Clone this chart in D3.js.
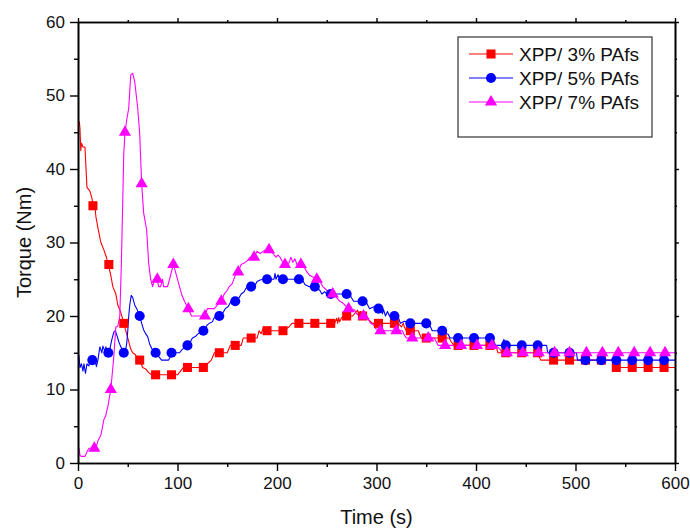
<!DOCTYPE html>
<html>
<head>
<meta charset="utf-8">
<script src="https://cdn.jsdelivr.net/npm/d3@7/dist/d3.min.js"></script>
<style>
  html, body { margin: 0; padding: 0; background: #fff; }
  svg { display: block; font-family: Arial, "Liberation Sans", sans-serif; }
</style>
</head>
<body>
<svg id="chart" width="690" height="529"></svg>
<script>
// Torque curves, [time (s), torque (Nm)]
const seriesNames = ["XPP/ 3% PAfs", "XPP/ 5% PAfs", "XPP/ 7% PAfs"];

const line3 = [[1.3,46.5],[2,45.5],[2.8,42.5],[3.5,43.5],[5,43],[7,43],[9,37.5],[12,37],[14,36],[15.4,35],[17,35],[18,33.5],[20,32],[23,30],[26,29],[28.5,28],[30.5,27],[33,25.5],[35,24],[38,23],[40,21.5],[43,20.5],[46,19],[49,17.5],[51,16.5],[53,15.5],[55,15],[58,14.7],[60,14],[62,14],[65,13],[68,12.8],[71,12.3],[74,12],[78,12],[86,12],[94,12],[100,12],[103,12.5],[106,13],[110,13],[118,13],[126,13],[130,13.5],[134,14],[137,15],[142,15],[150,15],[153,16],[158,16],[164,16],[166,17],[174,17],[180,17],[182,18],[184,17.6],[186,18.3],[190,18],[198,18],[206,18],[212,18.5],[215,19],[222,19],[230,19],[238,19],[254,19],[258,19],[260,19.7],[261,19],[262,19.8],[263,19.2],[265,19.8],[270,20],[276,20],[281,20.8],[282,20],[284,20.6],[286,20],[290,19.8],[292,19.5],[296,19],[302,19],[310,19],[318,19],[322,19],[325,18.5],[327,19],[328,18.5],[330,18],[334,18],[342,18],[345,17],[350,17],[358,17],[366,17],[373,17],[375,16.5],[378,16],[382,16],[398,16],[414,16],[420,16],[422,15],[430,15],[446,15],[462,15],[465,14],[478,14],[494,14],[510,14],[526,14],[537,14],[538,13],[541,13],[557,13],[573,13],[589,13],[600,13]];

const line5 = [[0,15],[1,14.5],[2,13],[3.5,13.5],[5,12.5],[6,13.5],[7.5,12.2],[9,13.5],[11,13.2],[12,14],[14.4,14],[17,14.2],[18.5,13.1],[20,14],[22,15.8],[24,15],[25,15.9],[27,15.2],[28,15.8],[30.5,15],[32,15.5],[34,16.8],[36,17.8],[37.5,18],[39.5,17.2],[41,16.5],[43,15.8],[46,15],[48,15.5],[49,16.3],[50,18],[51,20],[52,21.5],[53.5,22.8],[55,22.5],[57,21.5],[59,21],[62,20],[64,19],[66,18.1],[68,17.6],[70,17.2],[72,16.2],[74,15.6],[78,15],[81,14.5],[84,14],[88,14],[91,14],[93,14.5],[94,15],[98,15],[102,15],[105,15.5],[110,16],[113,16.5],[115,17],[118,17.2],[120,17.5],[123,17.8],[126,18],[130,18.8],[132,19],[135,19.2],[137,19.8],[142,20],[146,20.5],[148,21],[151,21.3],[153,21.8],[158,22],[162,22.5],[164,23],[167,23.3],[169,23.8],[174,24],[178,24.2],[180,24.7],[183,24.9],[186,25],[190,25],[197,25],[198,25.8],[199,25],[201,25.6],[203,25],[206,25],[214,25],[222,25],[226,24.8],[228,24.3],[232,24],[238,24],[243,23.5],[245,23],[248,23.3],[250,23],[254,23],[262,23],[270,23],[274,22.7],[277,22],[282,22],[286,22],[290,21.8],[293,21],[298,21.3],[302,21],[305,20.7],[306,20.3],[307,20.9],[309,20],[311,20.6],[313,20],[318,20],[322,19.8],[324,19],[328,19.3],[334,19],[342,19],[350,19],[354,18.6],[356,18],[366,18],[372,17.5],[374,17],[382,17],[398,17],[414,17],[418,16.5],[420,16],[426,16],[428,16.8],[430,16],[446,16],[462,16],[471,16],[472,15],[478,15],[494,15],[501,15],[502,14],[510,14],[526,14],[541,14],[557,14],[573,14],[589,14],[600,14]];

const line7 = [[0,0],[0.5,1.8],[1,2],[2,1],[4,0.9],[7,0.9],[9,1.5],[11,2],[16.4,2],[19,2.5],[20,3],[23,3.8],[26,5.9],[28,6.5],[30,7.7],[33,10],[36,14.5],[38,18.5],[40,18.6],[42,20],[43.5,26.7],[45,35.8],[46,42],[47.2,45],[49,46.7],[51,48.3],[53,52.8],[55,53],[57,51.9],[60,48.3],[62,44.8],[64,38],[66,34],[69,31.7],[71,27.2],[73,25],[75,24],[77,25],[79.7,25],[81,24],[83,24],[85,25],[86,24],[88,24],[90,24],[92,25],[95.8,27],[98,26],[101,24.5],[104,23],[107,22],[110.9,21],[114,20],[120,20],[127.6,20],[130,21],[137,21],[140,21.5],[144,22],[147,23],[150,23.5],[152,24],[155,24.4],[158,25.5],[161,26],[164,27],[167,27.2],[170,27.5],[173,28],[177,28],[180,28.8],[183,28.5],[186,28.8],[189,29],[192,29],[196,28.5],[199,28],[201,28.3],[203,28],[205,27.5],[208,27.2],[212,27.2],[214,28],[216,27.3],[218,27.8],[220,27],[224,27],[228,26.5],[230,26],[233,25.5],[236,25.3],[240,25],[244,24.5],[246,24],[250,23.5],[252,23.2],[256,23],[260,22.5],[263,22],[266,21.8],[268,21.5],[272,21],[278,20.8],[280,20.3],[283,20],[287,20],[292,19.5],[294,19],[297,18.8],[299,18.3],[304,18],[312,18],[320,18],[326,18],[328,17.4],[330,17],[336,17],[344,17],[352,17],[358,17],[360,16.5],[362,16],[369,16],[385,16],[401,16],[416,16],[420,16],[424,15.5],[426,15],[431,15],[447,15],[463,15],[479,15],[494,15],[511,15],[527,15],[543,15],[559,15],[575,15],[590,15],[600,15]];

// Symbol positions along each curve
const marks3 = [[15,35],[31,27],[46,19],[62,14],[78,12],[94,12],[110,13],[126,13],[142,15],[158,16],[174,17],[190,18],[206,18],[222,19],[238,19],[254,19],[270,20],[286,20],[302,19],[318,19],[334,18],[350,17],[366,17],[382,16],[398,16],[414,16],[430,15],[446,15],[462,15],[478,14],[494,14],[510,14],[526,14],[541,13],[557,13],[573,13],[589,13]];
const marks5 = [[14.4,14],[30.5,15],[46,15],[62,20],[78,15],[94,15],[110,16],[126,18],[142,20],[158,22],[174,24],[190,25],[206,25],[222,25],[238,24],[254,23],[270,23],[286,22],[302,21],[318,20],[334,19],[350,19],[366,18],[382,17],[398,17],[414,17],[430,16],[446,16],[462,16],[478,15],[494,15],[510,14],[526,14],[541,14],[557,14],[573,14],[589,14]];
const marks7 = [[16.4,2],[33,10],[47.2,45],[64,38],[79.7,25],[95.8,27],[110.9,21],[127.6,20],[144,22],[161,26],[177,28],[192,29],[208,27],[224,27],[240,25],[256,23],[272,21],[287,20],[304,18],[320,18],[336,17],[352,17],[369,16],[385,16],[401,16],[416,16],[431,15],[447,15],[463,15],[479,15],[494,15],[511,15],[527,15],[543,15],[559,15],[575,15],[590,15]];

const xTicks = [0, 100, 200, 300, 400, 500, 600];
const yTicks = [0, 10, 20, 30, 40, 50, 60];

const svg = d3.select("#chart");
const pLeft = 78, pRight = 675, pTop = 22, pBottom = 463;
const x = d3.scaleLinear().domain([0, 600]).range([pLeft, pRight]);
const y = d3.scaleLinear().domain([0, 60]).range([pBottom, pTop]);

const series = [
  { name: seriesNames[0], line: line3, marks: marks3, color: "#ff0000", symbol: d3.symbolSquare, size: 82 },
  { name: seriesNames[1], line: line5, marks: marks5, color: "#0000ff", symbol: d3.symbolCircle, size: 80 },
  { name: seriesNames[2], line: line7, marks: marks7, color: "#ff00ff", symbol: d3.symbolTriangle, size: 64 }
];

svg.append("clipPath").attr("id", "plotclip")
  .append("rect").attr("x", pLeft).attr("y", pTop).attr("width", pRight - pLeft).attr("height", pBottom - pTop);

const lineGen = d3.line().x(d => x(d[0])).y(d => y(d[1]));
const plot = svg.append("g").attr("clip-path", "url(#plotclip)");

series.forEach(s => {
  plot.append("path").datum(s.line)
    .attr("d", lineGen)
    .attr("fill", "none")
    .attr("stroke", s.color)
    .attr("stroke-width", 1.1)
    .attr("stroke-linejoin", "round");
});
series.forEach(s => {
  svg.append("g").selectAll("path").data(s.marks).join("path")
    .attr("transform", d => `translate(${x(d[0])},${y(d[1])})`)
    .attr("d", d3.symbol().type(s.symbol).size(s.size))
    .attr("fill", s.color);
});

// Axes with major and minor ticks on all four sides
const axisStyle = g => {
  g.selectAll("path.domain").attr("stroke", "#000").attr("stroke-width", 1.6);
  g.selectAll(".tick line").attr("stroke", "#000").attr("stroke-width", 1.4);
  g.selectAll(".tick text").attr("fill", "#111").attr("font-size", 17)
    .attr("font-family", "Arial, 'Liberation Sans', sans-serif");
};
const minorX = d3.range(50, 600, 100);
const minorY = d3.range(5, 60, 10);

svg.append("g").attr("transform", `translate(0,${pBottom})`)
  .call(d3.axisBottom(x).tickValues(xTicks).tickSize(8).tickPadding(6).tickSizeOuter(0))
  .call(axisStyle);
svg.append("g").attr("transform", `translate(0,${pBottom})`)
  .call(d3.axisBottom(x).tickValues(minorX).tickSize(4).tickFormat("").tickSizeOuter(0))
  .call(axisStyle);
svg.append("g").attr("transform", `translate(${pLeft},0)`)
  .call(d3.axisLeft(y).tickValues(yTicks).tickSize(8).tickPadding(5).tickSizeOuter(0))
  .call(axisStyle);
svg.append("g").attr("transform", `translate(${pLeft},0)`)
  .call(d3.axisLeft(y).tickValues(minorY).tickSize(4).tickFormat("").tickSizeOuter(0))
  .call(axisStyle);
svg.append("g").attr("transform", `translate(0,${pTop})`)
  .call(d3.axisTop(x).tickValues(xTicks).tickSize(4).tickFormat("").tickSizeOuter(0))
  .call(axisStyle);
svg.append("g").attr("transform", `translate(0,${pTop})`)
  .call(d3.axisTop(x).tickValues(minorX).tickSize(2).tickFormat("").tickSizeOuter(0))
  .call(axisStyle);
svg.append("g").attr("transform", `translate(${pRight},0)`)
  .call(d3.axisRight(y).tickValues(yTicks).tickSize(4).tickFormat("").tickSizeOuter(0))
  .call(axisStyle);
svg.append("g").attr("transform", `translate(${pRight},0)`)
  .call(d3.axisRight(y).tickValues(minorY).tickSize(2).tickFormat("").tickSizeOuter(0))
  .call(axisStyle);

// Axis titles
svg.append("text").attr("x", (pLeft + pRight) / 2).attr("y", 524)
  .attr("text-anchor", "middle").attr("font-size", 20).attr("fill", "#111").text("Time (s)");
svg.append("text").attr("transform", `translate(31,${(pTop + pBottom) / 2}) rotate(-90)`)
  .attr("text-anchor", "middle").attr("font-size", 20).attr("fill", "#111").text("Torque (Nm)");

// Legend
const lg = svg.append("g");
lg.append("rect").attr("x", 458).attr("y", 37).attr("width", 194).attr("height", 100)
  .attr("fill", "#fff").attr("stroke", "#333").attr("stroke-width", 1.2);
series.forEach((s, i) => {
  const yy = 54 + i * 24;
  lg.append("line").attr("x1", 469).attr("x2", 513).attr("y1", yy).attr("y2", yy)
    .attr("stroke", s.color).attr("stroke-width", 1.1);
  lg.append("path").attr("transform", `translate(491,${yy})`)
    .attr("d", d3.symbol().type(s.symbol).size(s.size)).attr("fill", s.color);
  lg.append("text").attr("x", 519).attr("y", yy).attr("dy", "0.36em")
    .attr("font-size", 19).attr("fill", "#111").text(s.name);
});
</script>
</body>
</html>
